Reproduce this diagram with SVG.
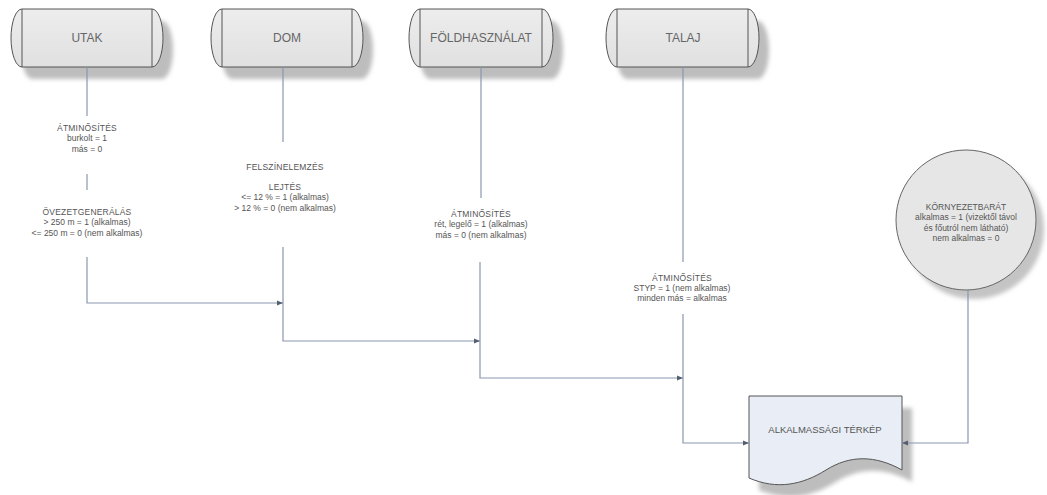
<svg xmlns="http://www.w3.org/2000/svg" width="1047" height="495" viewBox="0 0 1047 495">
<defs>
<style>
.drum{fill:url(#g1);stroke:#555;stroke-width:1}
.shadow{fill:#bdbdbd;filter:url(#blur)}
.lbl{font-family:"Liberation Sans",Arial,sans-serif;font-size:12px;fill:#666;text-anchor:middle}
.t{font-family:"Liberation Sans",Arial,sans-serif;font-size:8.5px;fill:#555;text-anchor:middle}
.tc{font-family:"Liberation Sans",Arial,sans-serif;font-size:8.5px;fill:#555;text-anchor:middle;letter-spacing:0.2px}
.ct{font-family:"Liberation Sans",Arial,sans-serif;font-size:8.5px;fill:#555;text-anchor:middle}
.c{fill:none;stroke:#8a97ad;stroke-width:1.2}
</style>
<linearGradient id="g1" x1="0" y1="0" x2="0" y2="1"><stop offset="0" stop-color="#ededed"/><stop offset="1" stop-color="#e0e0e0"/></linearGradient>
<filter id="blur" x="-10%" y="-10%" width="130%" height="140%"><feGaussianBlur stdDeviation="2"/></filter>
<marker id="arr" viewBox="0 0 10 10" refX="10" refY="5" markerWidth="6" markerHeight="6" orient="auto" markerUnits="userSpaceOnUse"><path d="M0,1 L10,5 L0,9 Z" fill="#555e70"/></marker>
</defs>
<rect width="1047" height="495" fill="#fff"/>

<g id="utak">
<path class="shadow" d="M32,21 H162 A11,29 0 0 1 162,79 H32 A11,29 0 0 1 32,21 Z"/>
<path class="drum" d="M22,9 H152 A11,29 0 0 1 152,67 H22 A11,29 0 0 1 22,9 Z"/>
<path d="M22,9 V67 M152,9 V67" stroke="#555" fill="none"/>
<text class="lbl" x="87" y="42">UTAK</text>
</g>
<g id="dom">
<path class="shadow" d="M232,21 H362 A11,29 0 0 1 362,79 H232 A11,29 0 0 1 232,21 Z"/>
<path class="drum" d="M222,9 H352 A11,29 0 0 1 352,67 H222 A11,29 0 0 1 222,9 Z"/>
<path d="M222,9 V67 M352,9 V67" stroke="#555" fill="none"/>
<text class="lbl" x="287" y="42">DOM</text>
</g>
<g id="foldhasznalat">
<path class="shadow" d="M430,21 H552 A11,29 0 0 1 552,79 H430 A11,29 0 0 1 430,21 Z"/>
<path class="drum" d="M420,9 H542 A11,29 0 0 1 542,67 H420 A11,29 0 0 1 420,9 Z"/>
<path d="M420,9 V67 M542,9 V67" stroke="#555" fill="none"/>
<text class="lbl" x="481" y="42">FÖLDHASZNÁLAT</text>
</g>
<g id="talaj">
<path class="shadow" d="M627,21 H758 A11,29 0 0 1 758,79 H627 A11,29 0 0 1 627,21 Z"/>
<path class="drum" d="M617,9 H748 A11,29 0 0 1 748,67 H617 A11,29 0 0 1 617,9 Z"/>
<path d="M617,9 V67 M748,9 V67" stroke="#555" fill="none"/>
<text class="lbl" x="683" y="42">TALAJ</text>
</g>

<g id="kornyezetbarat">
<circle cx="974" cy="229" r="70" fill="#c4c4c4" filter="url(#blur)"/>
<circle cx="966" cy="220" r="70" fill="#e6e6e6" stroke="#666" stroke-width="1"/>
<text class="ct" x="966" y="210">KÖRNYEZETBARÁT</text>
<text class="ct" x="966" y="220">alkalmas = 1 (vizektől távol</text>
<text class="ct" x="966" y="231">és főutról nem látható)</text>
<text class="ct" x="966" y="241">nem alkalmas = 0</text>
</g>

<g id="alkalmassagi-terkep">
<path class="shadow" d="M759,408 H912 V482 C885,467 860,467 836,482 C812,497 787,502 759,490 Z"/>
<path d="M749,396 H902 V470 C875,455 850,455 826,470 C802,485 777,490 749,478 Z" fill="#e8edf6" stroke="#555" stroke-width="1"/>
<text class="ct" x="825" y="433" style="font-size:9.5px">ALKALMASSÁGI TÉRKÉP</text>
</g>

<g id="texts">
<text class="tc" x="87" y="131">ÁTMINŐSÍTÉS</text>
<text class="t" x="87" y="141">burkolt = 1</text>
<text class="t" x="87" y="152">más = 0</text>
<text class="tc" x="87" y="215">ÖVEZETGENERÁLÁS</text>
<text class="t" x="87" y="225">&gt; 250 m = 1 (alkalmas)</text>
<text class="t" x="87" y="236">&lt;= 250 m = 0 (nem alkalmas)</text>

<text class="tc" x="285" y="170">FELSZÍNELEMZÉS</text>
<text class="tc" x="285" y="190">LEJTÉS</text>
<text class="t" x="285" y="200">&lt;= 12 % = 1 (alkalmas)</text>
<text class="t" x="285" y="211">&gt; 12 % = 0 (nem alkalmas)</text>

<text class="tc" x="481" y="217">ÁTMINŐSÍTÉS</text>
<text class="t" x="481" y="227">rét, legelő = 1 (alkalmas)</text>
<text class="t" x="481" y="238">más = 0 (nem alkalmas)</text>

<text class="tc" x="682" y="281">ÁTMINŐSÍTÉS</text>
<text class="t" x="682" y="291">STYP = 1 (nem alkalmas)</text>
<text class="t" x="682" y="301">minden más = alkalmas</text>
</g>

<g id="connectors">
<path class="c" d="M87,67 V116"/>
<path class="c" d="M87,174 V190"/>
<path class="c" d="M87,257 V303 H283" marker-end="url(#arr)"/>
<path class="c" d="M283,67 V142"/>
<path class="c" d="M283,247 V341 H480" marker-end="url(#arr)"/>
<path class="c" d="M481,67 V198"/>
<path class="c" d="M480,262 V378 H683" marker-end="url(#arr)"/>
<path class="c" d="M683,67 V262"/>
<path class="c" d="M683,314 V443 H749" marker-end="url(#arr)"/>
<path class="c" d="M968,290 V443 H902" marker-end="url(#arr)"/>
</g>
</svg>
